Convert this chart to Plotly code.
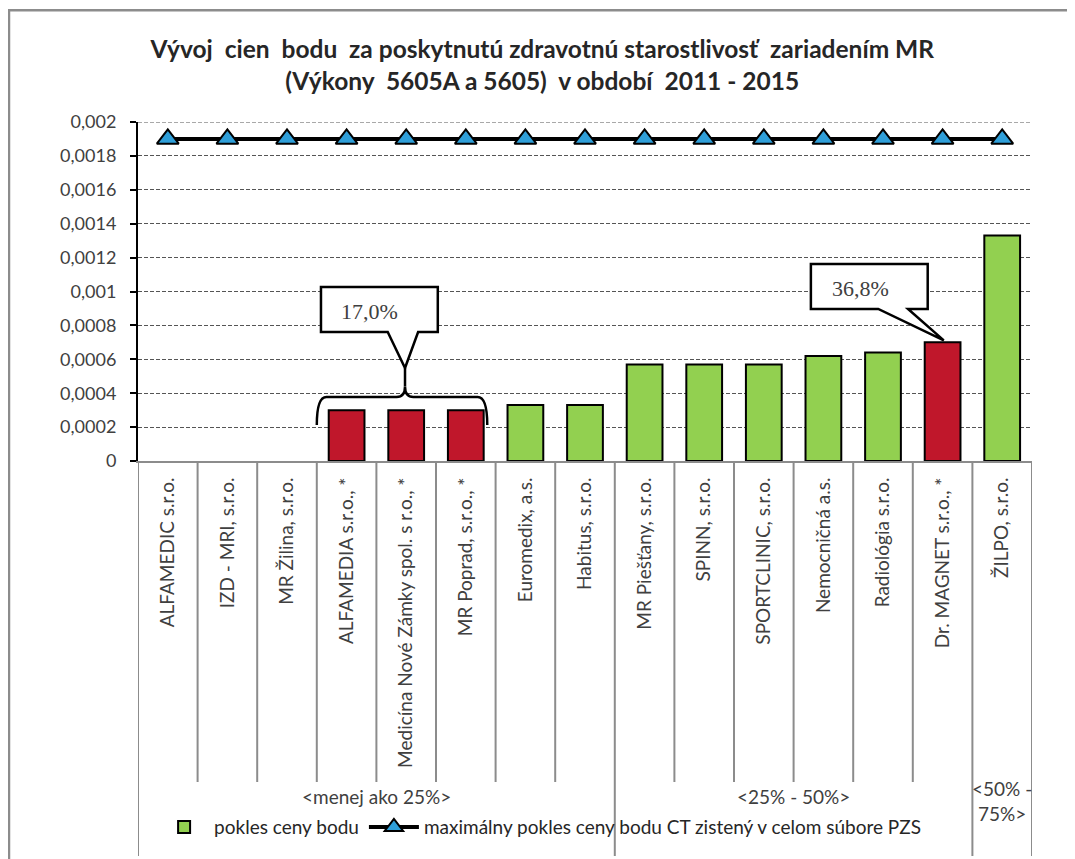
import plotly.graph_objects as go

# ---------------- data ----------------
categories = [
    "ALFAMEDIC s.r.o.", "IZD - MRI, s.r.o.", "MR Žilina, s.r.o.",
    "ALFAMEDIA s.r.o., *", "Medicína Nové Zámky spol. s r.o., *",
    "MR Poprad, s.r.o., *", "Euromedix, a.s.", "Habitus, s.r.o.",
    "MR Piešťany, s.r.o.", "SPINN, s.r.o.", "SPORTCLINIC, s.r.o.",
    "Nemocničná a.s.", "Radiológia s.r.o.", "Dr. MAGNET s.r.o., *",
    "ŽILPO, s.r.o.",
]
pokles = [None, None, None, 0.0003, 0.0003, 0.0003, 0.00033, 0.00033,
          0.00057, 0.00057, 0.00057, 0.00062, 0.00064, 0.0007, 0.00133]
highlight = [False, False, False, True, True, True, False, False,
             False, False, False, False, False, True, False]
max_pokles = [0.0019, 0.0019, 0.0019, 0.0019, 0.0019, 0.0019, 0.0019, 0.0019,
              0.0019, 0.0019, 0.0019, 0.0019, 0.0019, 0.0019, 0.0019]
groups = ["<menej ako 25%>", "<25% - 50%>", "<50% -<br>75%>"]
group_sizes = [8, 6, 1]
y_tickvals = [0, 0.0002, 0.0004, 0.0006, 0.0008, 0.001, 0.0012, 0.0014, 0.0016, 0.0018, 0.002]
y_ticktext = ["0", "0,0002", "0,0004", "0,0006", "0,0008", "0,001", "0,0012",
              "0,0014", "0,0016", "0,0018", "0,002"]
callout_labels = ["17,0%", "36,8%"]
title_lines = ["Vývoj  cien  bodu  za poskytnutú zdravotnú starostlivosť  zariadením MR",
               "(Výkony  5605A a 5605)  v období  2011 - 2015"]

# ---------------- style ----------------
GREEN = "#92d050"
RED = "#c0172b"
BLUE = "#2f9fd9"
TXT = "#404040"
FONT = "Lato"
GRID = "#555555"

x = list(range(len(categories)))
colors = [RED if h else GREEN for h in highlight]

fig = go.Figure()
fig.add_trace(go.Bar(
    x=x, y=pokles, width=0.6, name="pokles ceny bodu",
    marker=dict(color=colors, line=dict(color="black", width=2)),
))
fig.add_trace(go.Scatter(
    x=x, y=max_pokles, mode="lines+markers",
    name="maximálny pokles ceny bodu CT zistený v celom súbore PZS",
    line=dict(color="black", width=4),
    marker=dict(symbol="triangle-up", size=19, color=BLUE,
                line=dict(color="black", width=2)),
))

shapes = []
# top gridline (at the range end)
shapes.append(dict(type="line", xref="paper", yref="y", x0=0, x1=1,
                   y0=y_tickvals[-1], y1=y_tickvals[-1], layer="below",
                   line=dict(color=GRID, width=1, dash="4px,2px")))
# category table lines
group_edges = [-0.5]
acc = -0.5
for s in group_sizes:
    acc += s
    group_edges.append(acc)
for i in range(len(categories) + 1):
    b = i - 0.5
    is_group = any(abs(b - g) < 1e-9 for g in group_edges)
    shapes.append(dict(type="line", xref="x", yref="paper", x0=b, x1=b,
                       y0=0, y1=-1.165 if is_group else -0.947,
                       line=dict(color="#8c8c8c", width=2), layer="above"))

# callout 1 (bracket over the three red bars)
shapes.append(dict(type="path", xref="x", yref="y", layer="above",
                   path="M 2.5,0.000212 Q 2.5,0.000378 2.66,0.000378 L 3.84,0.000378 "
                        "Q 3.98,0.000378 3.98,0.00044 Q 3.98,0.000378 4.12,0.000378 "
                        "L 5.2,0.000378 Q 5.36,0.000378 5.36,0.000212",
                   line=dict(color="black", width=2.5)))
shapes.append(dict(type="line", xref="x", yref="y", layer="above",
                   x0=3.98, x1=3.98, y0=0.00044, y1=0.00055,
                   line=dict(color="black", width=2.5)))
shapes.append(dict(type="path", xref="x", yref="y", layer="above",
                   path="M 2.57,0.001027 L 4.53,0.001027 L 4.53,0.000761 L 4.2,0.000761 "
                        "L 3.98,0.000549 L 3.69,0.000761 L 2.57,0.000761 Z",
                   fillcolor="white", line=dict(color="black", width=2.5)))
# callout 2 (Dr. MAGNET)
shapes.append(dict(type="path", xref="x", yref="y", layer="above",
                   path="M 10.79,0.001162 L 12.75,0.001162 L 12.75,0.000897 L 12.42,0.000897 "
                        "L 13.02,0.000712 L 11.92,0.000897 L 10.79,0.000897 Z",
                   fillcolor="white", line=dict(color="black", width=2.5)))
# outer frame
shapes.append(dict(type="rect", xref="paper", yref="paper",
                   x0=-0.1443, x1=1.2, y0=1.330, y1=-1.4,
                   line=dict(color="#8c8c8c", width=2.5), fillcolor="rgba(0,0,0,0)",
                   layer="above"))

annotations = [
    dict(xref="x", yref="y", x=3.39, y=0.000884, text=callout_labels[0],
         showarrow=False, font=dict(family="Liberation Serif", size=22, color=TXT)),
    dict(xref="x", yref="y", x=11.62, y=0.00102, text=callout_labels[1],
         showarrow=False, font=dict(family="Liberation Serif", size=22, color=TXT)),
]
start = -0.5
for g, s in zip(groups, group_sizes):
    cx = start + s / 2
    two_line = "<br>" in g
    annotations.append(dict(xref="x", yref="paper", x=cx,
                            y=-1.08 if two_line else -1.03, text=g,
                            showarrow=False, font=dict(family=FONT, size=19, color=TXT)))
    start += s

fig.update_layout(
    width=1075, height=859,
    margin=dict(l=130, r=51, t=114, b=406),
    paper_bgcolor="white", plot_bgcolor="white",
    font=dict(family=FONT, size=16, color=TXT),
    title=dict(text="<b>" + title_lines[0] + "<br>" + title_lines[1] + "</b>",
               x=0.497, xanchor="center", xref="container",
               y=0.942, yanchor="middle",
               font=dict(family=FONT, size=24.5, color="#262626")),
    showlegend=True,
    legend=dict(orientation="h", x=0.018, xanchor="left", y=-1.08, yanchor="middle",
                bgcolor="rgba(0,0,0,0)", font=dict(family=FONT, size=19, color="#262626"),
                itemwidth=50, tracegroupgap=0),
    shapes=shapes,
    annotations=annotations,
    bargap=0.4,
)
fig.update_xaxes(
    range=[-0.5, len(categories) - 0.5], tickmode="array", tickvals=x,
    ticktext=categories, tickangle=-90, ticks="", showgrid=False,
    showline=True, linecolor="#8c8c8c", linewidth=2, zeroline=False,
    tickfont=dict(family=FONT, size=19, color=TXT), ticklabelstandoff=7,
)
fig.update_yaxes(
    range=[0, 0.002], tickmode="array", tickvals=y_tickvals, ticktext=y_ticktext,
    showgrid=True, gridcolor=GRID, griddash="4px,2px", gridwidth=1,
    showline=True, linecolor="black", linewidth=2, ticks="outside", ticklen=6,
    tickcolor="black", tickwidth=2, zeroline=False, ticklabelstandoff=10,
    tickfont=dict(family=FONT, size=18, color=TXT),
)

fig.write_html("out.html")
